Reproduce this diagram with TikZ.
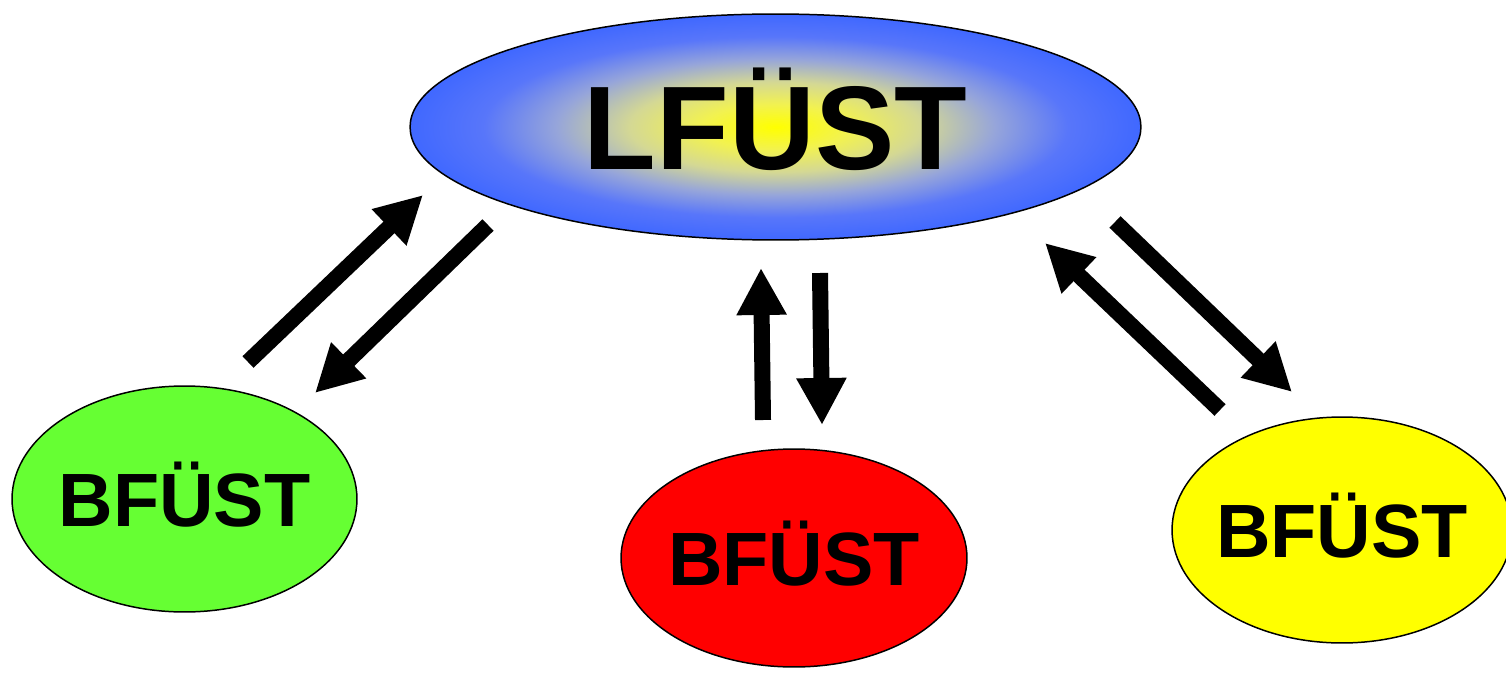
\documentclass[tikz,border=0pt]{standalone}
\usepackage{fontspec}
\setmainfont{Liberation Sans}
\usetikzlibrary{shapes,arrows.meta}

\definecolor{lfblue}{RGB}{64,104,255}
\definecolor{lfblue2}{RGB}{88,118,250}
\definecolor{lfmid}{RGB}{150,165,218}
\definecolor{lfpale}{RGB}{212,216,148}
\definecolor{lflight}{RGB}{242,242,80}
\definecolor{byellow}{RGB}{255,255,0}
\definecolor{bgreen}{RGB}{102,255,51}
\definecolor{bred}{RGB}{255,0,0}
\pgfdeclareradialshading{lfust}{\pgfpoint{0bp}{0bp}}{color(0bp)=(byellow); color(5bp)=(lflight); color(10bp)=(lfpale); color(15bp)=(lfmid); color(20bp)=(lfblue2); color(25bp)=(lfblue); color(50bp)=(lfblue)}

\begin{document}
\begin{tikzpicture}[
x=0.02cm, y=-0.02cm,
fuest/.style={
    ellipse, draw=black, line width=0.85pt,
    inner xsep=-0.15cm, inner ysep=0pt, text depth=0pt},
big/.style={fuest, shading=lfust,
    minimum width=14.62cm, minimum height=4.52cm, text height=1.7cm,
    font=\fontsize{67.7}{70}\selectfont\bfseries},
small/.style={fuest, text height=1.1cm,
    font=\fontsize{43}{46}\selectfont\bfseries},
flow/.style={line width=0.32cm, -{Triangle[length=0.94cm, width=0.94cm]}},
]

\useasboundingbox (0,0) rectangle (1506,672);

\node[big] (L) at (775.5,127) {LFÜST};
\node[small, fill=bgreen, minimum width=6.9cm, minimum height=4.52cm] (B1) at (184.5,499) {BFÜST};
\node[small, fill=bred, minimum width=6.92cm, minimum height=4.36cm] (B2) at (794,558) {BFÜST};
\node[small, fill=byellow, minimum width=6.8cm, minimum height=4.52cm] (B3) at (1342,530) {BFÜST};

\coordinate (B1-up) at (248,362);
\coordinate (L-B1up) at (423,195);
\coordinate (L-B1dn) at (488,225);
\coordinate (B1-dn) at (315,393);
\coordinate (B2-up) at (763,420);
\coordinate (L-B2up) at (761,268);
\coordinate (L-B2dn) at (820,273);
\coordinate (B2-dn) at (822,425);
\coordinate (L-B3dn) at (1115,222);
\coordinate (B3-dn) at (1292,392);
\coordinate (B3-up) at (1220,410);
\coordinate (L-B3up) at (1045,243);

\draw[flow] (B1-up) -- (L-B1up);
\draw[flow] (L-B1dn) -- (B1-dn);
\draw[flow] (B2-up) -- (L-B2up);
\draw[flow] (L-B2dn) -- (B2-dn);
\draw[flow] (L-B3dn) -- (B3-dn);
\draw[flow] (B3-up) -- (L-B3up);

\end{tikzpicture}
\end{document}
